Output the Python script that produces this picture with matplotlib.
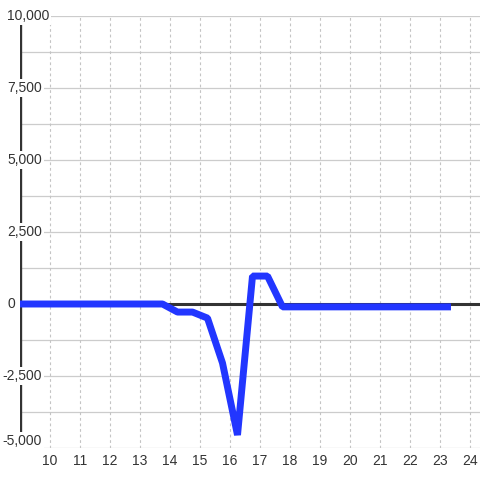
import matplotlib.pyplot as plt
import matplotlib.transforms as mtransforms
import numpy as np

plt.rcParams['font.family'] = ['Liberation Sans', 'DejaVu Sans']

# half-hourly readings
hours = [8.75, 9.25, 9.75, 10.25, 10.75, 11.25, 11.75, 12.25, 12.75, 13.25, 13.75,
         14.25, 14.75, 15.25, 15.75, 16.25, 16.75, 17.25, 17.75, 18.25, 18.75,
         19.25, 19.75, 20.25, 20.75, 21.25, 21.75, 22.25, 22.75, 23.25]
values = [0, 0, 0, 0, 0, 0, 0, 0, 0, 0, 0,
          -280, -280, -490, -2050, -4550, 970, 970, -100, -100, -100,
          -100, -100, -100, -100, -100, -100, -100, -100, -100]

x_ticks = list(range(10, 25))
y_ticks = [10000, 7500, 5000, 2500, 0, -2500, -5000]
y_grid = np.arange(-5000, 10001, 1250)

text_col = '#333333'
dark = '#333333'

fig = plt.figure(figsize=(4.8, 4.8), dpi=100)
ax = fig.add_axes([20 / 480, 32 / 480, 460 / 480, 432 / 480])
ax.set_xlim(9, 9 + 460 / 30)
ax.set_ylim(-5000, 10000)

for s in ax.spines.values():
    s.set_visible(False)

for g in y_grid:
    ax.axhline(g, color='#cccccc', lw=0.9, zorder=1)
for xv in range(9, 25):
    ax.axvline(xv, color='#c4c4c4', lw=0.8, ls=(0, (2.5, 2.5)), zorder=1)

ax.axhline(0, color=dark, lw=2.2, zorder=2)
ax.axvline(9, color=dark, lw=2.4, zorder=2)

ax.plot(hours, values, color='#2236ff', lw=5, solid_joinstyle='bevel',
        solid_capstyle='projecting', zorder=3)

ax.set_xticks(x_ticks)
ax.set_xticklabels([str(t) for t in x_ticks])
ax.tick_params(axis='x', length=0, pad=4, labelsize=10, labelcolor=text_col)
ax.set_yticks([])

trans = mtransforms.blended_transform_factory(fig.transFigure, ax.transData)
for v in y_ticks:
    lab = '{:,}'.format(v)
    xpos = 7 / 480 if v >= 0 else 2.5 / 480
    ypos = v if v > -5000 else -5000 + 7 * (15000 / 432)
    ax.text(xpos, ypos, lab, transform=trans, ha='left', va='center',
            fontsize=10, color=text_col, zorder=5, clip_on=False,
            bbox=dict(boxstyle='square,pad=0.15', fc='white', ec='none'))

fig.savefig('out.png', dpi=100)
